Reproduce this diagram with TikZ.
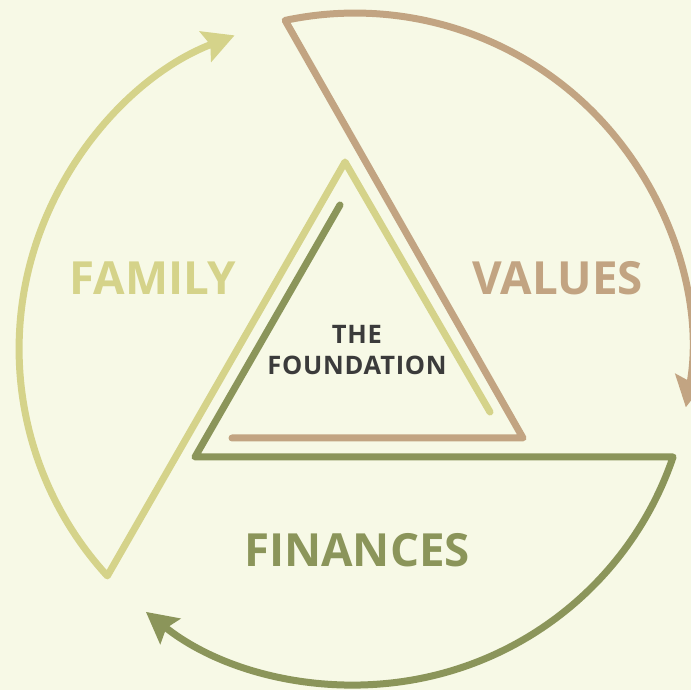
\documentclass[tikz,border=0pt]{standalone}
\usepackage{fontspec}
\setmainfont{Open Sans}
\usetikzlibrary{arrows.meta,calc}
\definecolor{bgcol}{HTML}{F7F9E6}
\definecolor{famcol}{HTML}{D5D38A}
\definecolor{valcol}{HTML}{C2A482}
\definecolor{fincol}{HTML}{8B955A}
\definecolor{txtcol}{HTML}{3B3B3B}

\begin{document}
\begin{tikzpicture}[x=0.02cm,y=0.02cm,
    band/.style={line width=0.14cm,line cap=round,line join=round},
    tip/.style={-{Stealth[length=0.62cm,width=0.64cm,inset=0.1cm]}},
    word/.style={font=\bfseries\fontsize{26}{30}\selectfont}]
      \path[use as bounding box,fill=bgcol] (0,0) rectangle (691,690);
      \coordinate (c) at (355,341);
      \coordinate (famend) at (490,278);
      \coordinate (famtop) at (345,528);
      \coordinate (famcorner) at ($(c)+(222.5:6.72cm)$);
      \coordinate (valstart) at (232,252);
      \coordinate (valright) at (523,252);
      \coordinate (valcorner) at ($(c)+(102:6.72cm)$);
      \coordinate (finstart) at (340,485);
      \coordinate (finleft) at (195,233);
      \coordinate (fincorner) at ($(c)+(-18.75:6.72cm)$);
      \draw[band,famcol,tip] (famend) -- (famtop) -- (famcorner)
        arc[start angle=222.5,end angle=111,radius=6.72cm];
      \draw[band,valcol,tip] (valstart) -- (valright) -- (valcorner)
        arc[start angle=102,end angle=-10,radius=6.72cm];
      \draw[band,fincol,tip] (finstart) -- (finleft) -- (fincorner)
        arc[start angle=-18.75,end angle=-128.5,radius=6.72cm];
      \node[word,famcol] (family) at (153,412) {FAMILY};
      \node[word,valcol] (values) at (558,412) {VALUES};
      \node[word,fincol] (finances) at (357,140) {FINANCES};
      \node[txtcol,align=center,font=\bfseries\fontsize{14.5}{17.6}\addfontfeature{LetterSpace=3}\selectfont] (found) at (357,340) {THE\\FOUNDATION};
    \end{tikzpicture}
\end{document}
